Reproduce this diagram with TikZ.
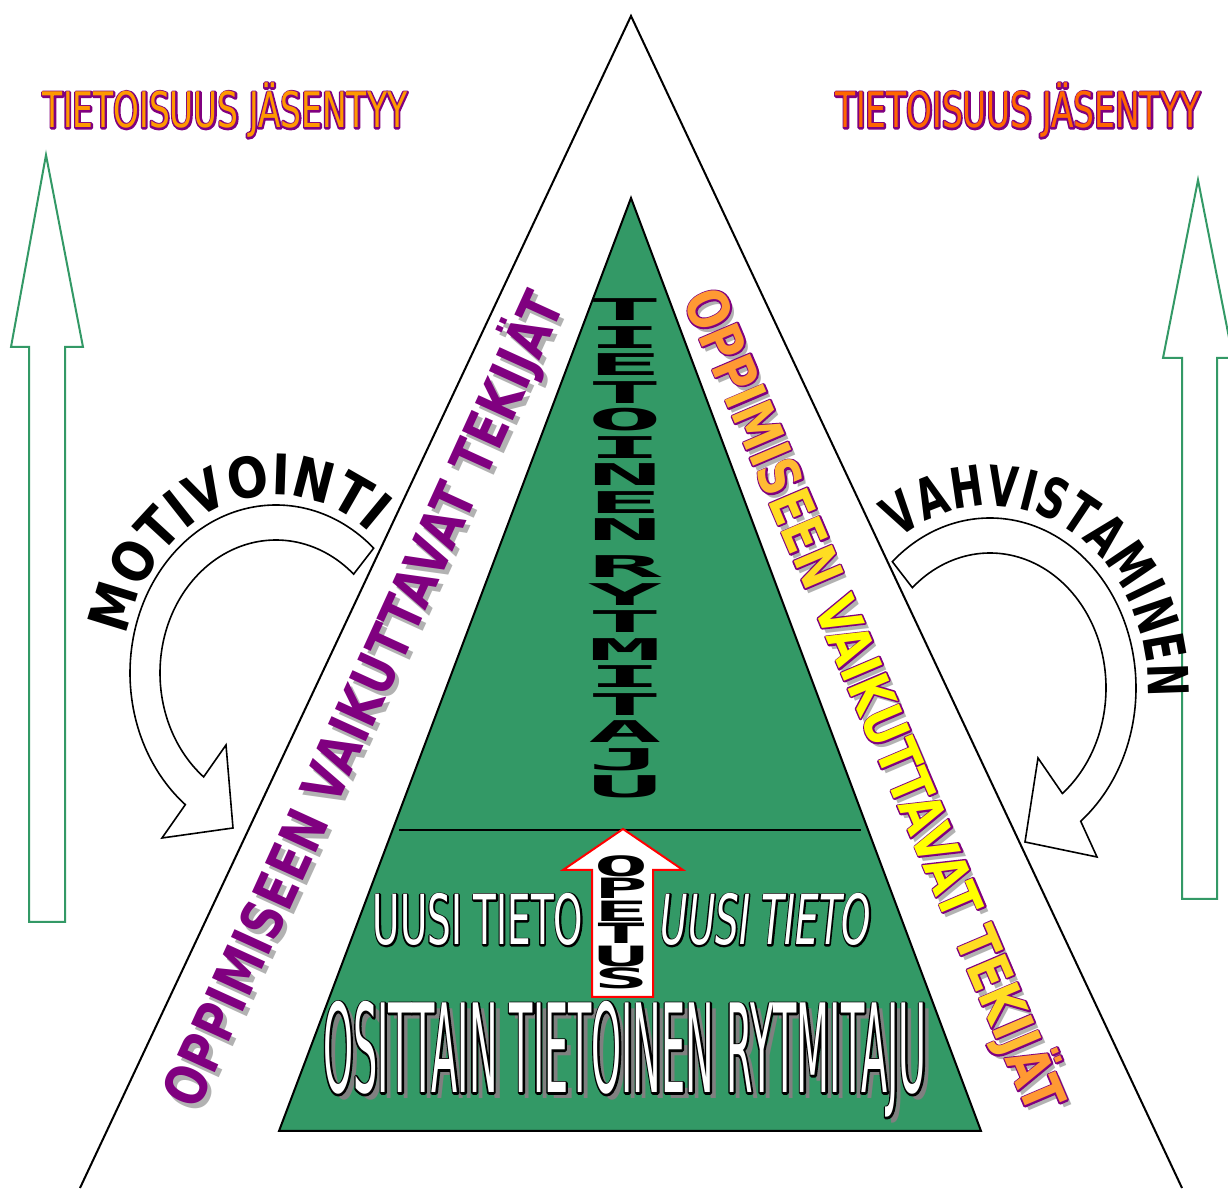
\documentclass[tikz,border=0pt]{standalone}
\usepackage{fontspec}
\setmainfont{DejaVu Sans}
\newfontfamily\tagfont[FakeStretch=0.67]{DejaVu Sans}
\newfontfamily\bandfont[FakeStretch=0.8]{DejaVu Sans}
\newfontfamily\arcfont[FakeStretch=0.86]{DejaVu Sans}
\newfontfamily\arcnarrowfont[FakeStretch=0.7]{DejaVu Sans}
\newfontfamily\newsfont[FakeStretch=0.54]{DejaVu Sans}
\newfontfamily\lowfont[FakeStretch=0.31]{DejaVu Sans}
\newfontfamily\stackfont{DejaVu Sans Mono}
\usetikzlibrary{calc,decorations.text}
\definecolor{pyrgreen}{HTML}{339966}
\definecolor{wordpurple}{HTML}{800080}
\definecolor{tagorange}{HTML}{FF9900}
\definecolor{tagred}{HTML}{FF6600}
\definecolor{wordorange}{HTML}{FF9933}
\definecolor{wordamber}{HTML}{FFBB33}
\definecolor{wordgold}{HTML}{FFDD22}
\definecolor{wordyellow}{HTML}{FFFF00}
\definecolor{shade}{HTML}{B2B2B2}
\definecolor{darkshade}{HTML}{808080}
\newcommand\tagstyle{\tagfont\fontsize{49}{49}\selectfont}
\newcommand\bandstyle{\bandfont\bfseries\fontsize{57}{57}\selectfont}
\newcommand\arcstyle{\arcfont\bfseries\fontsize{56}{56}\selectfont}
\newcommand\arcnarrowstyle{\arcnarrowfont\bfseries\fontsize{56}{56}\selectfont}
\newcommand\newsstyle{\newsfont\fontsize{69}{69}\selectfont}
\newcommand\lowstyle{\lowfont\fontsize{123}{123}\selectfont}
\newcommand\stackstyle{\stackfont\bfseries\fontsize{30}{30}\selectfont}
\newcommand\teachstyle{\stackfont\bfseries\fontsize{28}{28}\selectfont}
% stroked copy of a text laid under its filled copy: #1 stroke rgb, #2 width
\newcommand\rimunder[3]{\rlap{\special{pdf:literal direct #1 RG #2 w 1 j 1 Tr}#3\special{pdf:literal direct 0 Tr}}}
\tikzset{
  bigtri/.style    ={draw=black, line width=2},
  greentri/.style  ={draw=black, line width=2, fill=pyrgreen},
  sidearrow/.style ={draw=pyrgreen, line width=2, fill=white},
  turnarrow/.style ={draw=black, line width=1.6, fill=white},
  teacharrow/.style={draw=red, line width=2, fill=white},
  toptag/.style    ={inner sep=0, anchor=base, font=\tagstyle},
  band/.style      ={inner sep=0, font=\bandstyle},
  news/.style      ={inner sep=0, anchor=base, font=\newsstyle, text=white},
  lowline/.style   ={inner sep=0, anchor=base, font=\lowstyle},
  stackletter/.style={inner sep=0, font=\stackstyle},
  teachletter/.style={inner sep=0, font=\teachstyle},
}
\begin{document}
\begin{tikzpicture}[x=1pt, y=1pt]
    \useasboundingbox (0,0) rectangle (1228,1188);
    \fill[white] (0,0) rectangle (1228,1188);
    % pyramids
    \draw[bigtri] (80,0) -- (631,1172) -- (1182,0);
    \draw[greentri] (279,57) -- (631,990) -- (981,57) -- cycle;
    \draw[line width=2] (399,358) -- (861,358);
    % side arrows
    \draw[sidearrow] (46,1033) -- (83,841) -- (65,841) -- (65,266) -- (29,266) -- (29,841) -- (11,841) -- cycle;
    \draw[sidearrow] (1198,1008) -- (1233,830) -- (1217,830) -- (1217,289) -- (1182,289) -- (1182,830) -- (1163,830) -- cycle;
    \node[toptag, text=tagorange] (tagl) at (225,1060) {\rimunder{0.5 0 0.5}{3.5}{TIETOISUUS JÄSENTYY}TIETOISUUS JÄSENTYY};
    \node[toptag, text=tagred]    (tagr) at (1018,1060) {\rimunder{0.5 0 0.5}{3.5}{TIETOISUUS JÄSENTYY}TIETOISUUS JÄSENTYY};
    % turning arrows
    \coordinate (lc) at (276,515);
    \coordinate (rc) at (990,500);
    \draw[turnarrow] ($(lc)+(48:146 and 168)$) arc[start angle=48, end angle=231.6, x radius=146, y radius=168]
      -- (162,350) -- (233,360) -- (226,443) -- ($(lc)+(231.4:116 and 133)$)
      arc[start angle=231.4, end angle=48, x radius=116, y radius=133] -- cycle;
    \draw[turnarrow] ($(rc)+(132:146 and 170)$) arc[start angle=132, end angle=-51.6, x radius=146, y radius=170]
      -- (1097,331) -- (1025,346) -- (1038,430) -- ($(rc)+(-51.4:116 and 135)$)
      arc[start angle=-51.4, end angle=132, x radius=116, y radius=135] -- cycle;
    \path[decorate, decoration={text along path, text={|\arcstyle|MOTIVOINTI}, text align={fit to path}}]
      ($(lc)+(168:152 and 178)$) arc[start angle=168, end angle=53, x radius=152, y radius=178];
    \path[decorate, decoration={text along path, text={|\arcnarrowstyle|VAHVISTAMINEN}, text align={fit to path}}]
      ($(rc)+(125:158 and 182)$) arc[start angle=125, end angle=-3, x radius=158, y radius=182];
    % side bands
    \node[band, text=shade, rotate=65.5] (opplshadow) at (367,484) {OPPIMISEEN VAIKUTTAVAT TEKIJÄT};
    \node[band, text=wordpurple, rotate=65.5] (oppl) at (363,489) {OPPIMISEEN VAIKUTTAVAT TEKIJÄT};
    \node[band, text=shade, rotate=-67] (opprshadow) at (879,483) {OPPIMISEEN VAIKUTTAVAT TEKIJÄT};
    \node[band, rotate=-67] (oppr) at (875,488) {\rimunder{0.5 0 0.5}{3}{OPP\kern0pt{}IMIS\kern0pt{}EEN VAIKUTTAVAT TEK\kern0pt{}IJ\kern0pt{}ÄT}%
      {\color{wordorange}OPP}{\color{wordamber}IMIS}{\color{wordgold}EEN} {\color{wordyellow}VAIKUTTAVAT} {\color{wordgold}TEK}{\color{wordamber}IJ}{\color{wordorange}ÄT}};
    % upper level
    \foreach \ch [count=\i] in {T,I,E,T,O,I,N,E,N}
      \node[stackletter] (tl\i) at (625,878-27.5*\i+27.5) {\scalebox{4.1}[1]{\ch}};
    \foreach \ch [count=\i] in {R,Y,T,M,I,T,A,J,U}
      \node[stackletter] (rl\i) at (625,621-27.5*\i+27.5) {\scalebox{4.1}[1]{\ch}};
    % teaching arrow
    \draw[teacharrow] (623,359) -- (683,318) -- (653,318) -- (653,191) -- (592,191) -- (592,318) -- (563,318) -- cycle;
    \foreach \ch [count=\i] in {O,P,E,T,U,S}
      \node[teachletter] (op\i) at (621,322-22.5*\i+22.5) {\scalebox{3.2}[1]{\ch}};
    % lower level
    \node[news] (newl) at (478,243) {\rimunder{0 0 0}{3}{UUSI TIETO}UUSI TIETO};
    \node[news, font=\newsstyle\itshape] (newr) at (766,243) {\rimunder{0 0 0}{3}{UUSI TIETO}UUSI TIETO};
    \node[lowline, text=darkshade] (lowshadow) at (631,89) {OSITTAIN TIETOINEN RYTMITAJU};
    \node[lowline, text=white] (low) at (625,95) {\rimunder{0 0 0}{3.5}{OSITTAIN TIETOINEN RYTMITAJU}OSITTAIN TIETOINEN RYTMITAJU};
\end{tikzpicture}
\end{document}
